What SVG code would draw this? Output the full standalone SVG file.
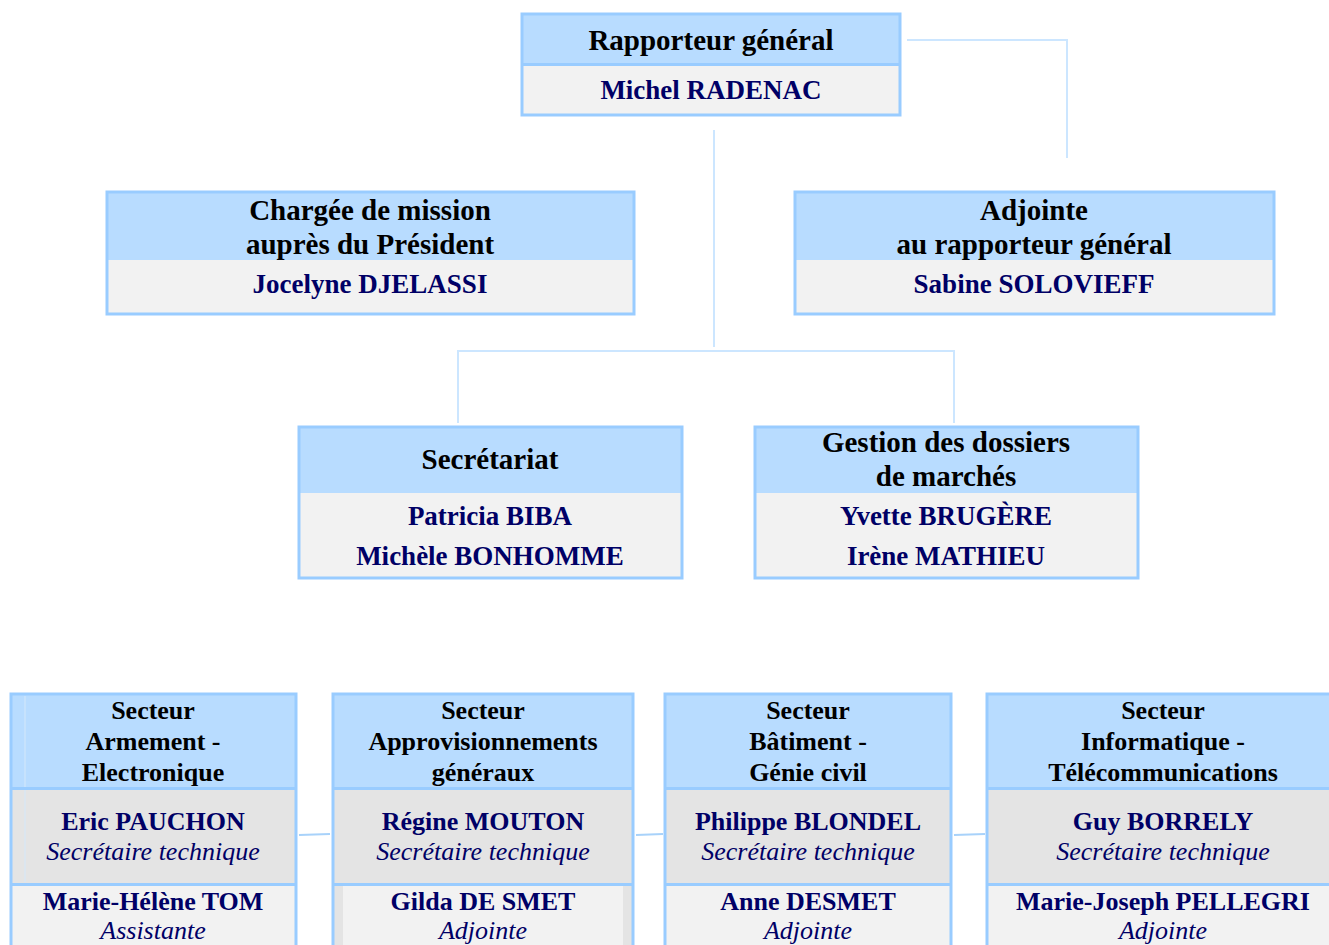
<svg xmlns="http://www.w3.org/2000/svg" width="1329" height="945" viewBox="0 0 1329 945">
<style>
.hd{fill:#B8DCFF}
.bd{fill:#F2F2F2}
.bd2{fill:#E4E4E4}
.fr{fill:none;stroke:#99CCFF;stroke-width:3}
.sep{stroke:#99CCFF;stroke-width:3}
.in{stroke:#D4E8FA;stroke-width:1}
.c{fill:none;stroke:#CCE6FF;stroke-width:2}
.c2{fill:none;stroke:#A8D2FA;stroke-width:2}
.t{font-weight:bold;font-size:29px;fill:#000;text-anchor:middle}
.n{font-weight:bold;font-size:27px;fill:#000066;text-anchor:middle}
.tb{font-weight:bold;font-size:26px;fill:#000;text-anchor:middle}
.nb{font-weight:bold;font-size:26px;fill:#000066;text-anchor:middle}
.ib{font-style:italic;font-size:26px;fill:#000066;text-anchor:middle}
</style>
<rect width="1329" height="945" fill="#fff"/>
<g id="connectors">
<polyline class="c" points="907,40 1067,40 1067,158"/>
<line class="c" x1="714" y1="130" x2="714" y2="347"/>
<polyline class="c" points="458,423 458,351 954,351 954,423"/>
<line class="c2" x1="299" y1="835" x2="330" y2="834"/>
<line class="c2" x1="636" y1="835" x2="663" y2="834"/>
<line class="c2" x1="954" y1="835" x2="985" y2="834"/>
</g>
<g id="rapporteur">
<rect class="hd" x="522" y="14" width="378" height="50"/>
<rect class="bd" x="522" y="64" width="378" height="51"/>
<line class="sep" x1="522" y1="64.5" x2="900" y2="64.5"/>
<rect class="fr" x="522" y="14" width="378" height="101"/>
<text class="t" x="711" y="50" font-family="Liberation Serif" style="font-family:'Liberation Serif',serif !important">Rapporteur général</text>
<text class="n" x="711" y="99" font-family="Liberation Serif" style="font-family:'Liberation Serif',serif !important">Michel RADENAC</text>
</g>
<g id="chargee">
<rect class="hd" x="107" y="192" width="527" height="68"/>
<rect class="bd" x="107" y="260" width="527" height="54"/>
<rect class="fr" x="107" y="192" width="527" height="122"/>
<text class="t" x="370" y="220" font-family="Liberation Serif" style="font-family:'Liberation Serif',serif !important">Chargée de mission</text>
<text class="t" x="370" y="254" font-family="Liberation Serif" style="font-family:'Liberation Serif',serif !important">auprès du Président</text>
<text class="n" x="370" y="293" font-family="Liberation Serif" style="font-family:'Liberation Serif',serif !important">Jocelyne DJELASSI</text>
</g>
<g id="adjointe">
<rect class="hd" x="795" y="192" width="479" height="68"/>
<rect class="bd" x="795" y="260" width="479" height="54"/>
<rect class="fr" x="795" y="192" width="479" height="122"/>
<text class="t" x="1034" y="220" font-family="Liberation Serif" style="font-family:'Liberation Serif',serif !important">Adjointe</text>
<text class="t" x="1034" y="254" font-family="Liberation Serif" style="font-family:'Liberation Serif',serif !important">au rapporteur général</text>
<text class="n" x="1034" y="293" font-family="Liberation Serif" style="font-family:'Liberation Serif',serif !important">Sabine SOLOVIEFF</text>
</g>
<g id="secretariat">
<rect class="hd" x="299" y="427" width="383" height="66"/>
<rect class="bd" x="299" y="493" width="383" height="85"/>
<rect class="fr" x="299" y="427" width="383" height="151"/>
<text class="t" x="490" y="469" font-family="Liberation Serif" style="font-family:'Liberation Serif',serif !important">Secrétariat</text>
<text class="n" x="490" y="525" font-family="Liberation Serif" style="font-family:'Liberation Serif',serif !important">Patricia BIBA</text>
<text class="n" x="490" y="565" font-family="Liberation Serif" style="font-family:'Liberation Serif',serif !important">Michèle BONHOMME</text>
</g>
<g id="gestion">
<rect class="hd" x="755" y="427" width="383" height="66"/>
<rect class="bd" x="755" y="493" width="383" height="85"/>
<rect class="fr" x="755" y="427" width="383" height="151"/>
<text class="t" x="946" y="452" font-family="Liberation Serif" style="font-family:'Liberation Serif',serif !important">Gestion des dossiers</text>
<text class="t" x="946" y="486" font-family="Liberation Serif" style="font-family:'Liberation Serif',serif !important">de marchés</text>
<text class="n" x="946" y="525" font-family="Liberation Serif" style="font-family:'Liberation Serif',serif !important">Yvette BRUGÈRE</text>
<text class="n" x="946" y="565" font-family="Liberation Serif" style="font-family:'Liberation Serif',serif !important">Irène MATHIEU</text>
</g>
<g id="armement">
<rect class="hd" x="11" y="694" width="285" height="94"/>
<rect class="bd2" x="11" y="788" width="285" height="96"/>
<rect class="bd" x="11" y="884" width="285" height="70"/>
<line class="in" x1="25" y1="696" x2="25" y2="882"/>
<line class="sep" x1="11" y1="788.5" x2="296" y2="788.5"/>
<line class="sep" x1="11" y1="884.5" x2="296" y2="884.5"/>
<rect class="fr" x="11" y="694" width="285" height="270"/>
<text class="tb" x="153" y="719" font-family="Liberation Serif" style="font-family:'Liberation Serif',serif !important">Secteur</text>
<text class="tb" x="153" y="750" font-family="Liberation Serif" style="font-family:'Liberation Serif',serif !important">Armement -</text>
<text class="tb" x="153" y="781" font-family="Liberation Serif" style="font-family:'Liberation Serif',serif !important">Electronique</text>
<text class="nb" x="153" y="830" font-family="Liberation Serif" style="font-family:'Liberation Serif',serif !important">Eric PAUCHON</text>
<text class="ib" x="153" y="860" font-family="Liberation Serif" style="font-family:'Liberation Serif',serif !important">Secrétaire technique</text>
<text class="nb" x="153" y="910" font-family="Liberation Serif" style="font-family:'Liberation Serif',serif !important">Marie-Hélène TOM</text>
<text class="ib" x="153" y="939" font-family="Liberation Serif" style="font-family:'Liberation Serif',serif !important">Assistante</text>
</g>
<g id="approvisionnements">
<rect class="hd" x="333" y="694" width="300" height="94"/>
<rect class="bd2" x="333" y="788" width="300" height="96"/>
<rect class="bd2" x="333" y="884" width="300" height="70"/>
<rect class="bd" x="343" y="886" width="280" height="70"/>
<line class="sep" x1="333" y1="788.5" x2="633" y2="788.5"/>
<line class="sep" x1="333" y1="884.5" x2="633" y2="884.5"/>
<rect class="fr" x="333" y="694" width="300" height="270"/>
<text class="tb" x="483" y="719" font-family="Liberation Serif" style="font-family:'Liberation Serif',serif !important">Secteur</text>
<text class="tb" x="483" y="750" font-family="Liberation Serif" style="font-family:'Liberation Serif',serif !important">Approvisionnements</text>
<text class="tb" x="483" y="781" font-family="Liberation Serif" style="font-family:'Liberation Serif',serif !important">généraux</text>
<text class="nb" x="483" y="830" font-family="Liberation Serif" style="font-family:'Liberation Serif',serif !important">Régine MOUTON</text>
<text class="ib" x="483" y="860" font-family="Liberation Serif" style="font-family:'Liberation Serif',serif !important">Secrétaire technique</text>
<text class="nb" x="483" y="910" font-family="Liberation Serif" style="font-family:'Liberation Serif',serif !important">Gilda DE SMET</text>
<text class="ib" x="483" y="939" font-family="Liberation Serif" style="font-family:'Liberation Serif',serif !important">Adjointe</text>
</g>
<g id="batiment">
<rect class="hd" x="665" y="694" width="286" height="94"/>
<rect class="bd2" x="665" y="788" width="286" height="96"/>
<rect class="bd" x="665" y="884" width="286" height="70"/>
<line class="sep" x1="665" y1="788.5" x2="951" y2="788.5"/>
<line class="sep" x1="665" y1="884.5" x2="951" y2="884.5"/>
<rect class="fr" x="665" y="694" width="286" height="270"/>
<text class="tb" x="808" y="719" font-family="Liberation Serif" style="font-family:'Liberation Serif',serif !important">Secteur</text>
<text class="tb" x="808" y="750" font-family="Liberation Serif" style="font-family:'Liberation Serif',serif !important">Bâtiment -</text>
<text class="tb" x="808" y="781" font-family="Liberation Serif" style="font-family:'Liberation Serif',serif !important">Génie civil</text>
<text class="nb" x="808" y="830" font-family="Liberation Serif" style="font-family:'Liberation Serif',serif !important">Philippe BLONDEL</text>
<text class="ib" x="808" y="860" font-family="Liberation Serif" style="font-family:'Liberation Serif',serif !important">Secrétaire technique</text>
<text class="nb" x="808" y="910" font-family="Liberation Serif" style="font-family:'Liberation Serif',serif !important">Anne DESMET</text>
<text class="ib" x="808" y="939" font-family="Liberation Serif" style="font-family:'Liberation Serif',serif !important">Adjointe</text>
</g>
<g id="informatique">
<rect class="hd" x="987" y="694" width="345" height="94"/>
<rect class="bd2" x="987" y="788" width="345" height="96"/>
<rect class="bd" x="987" y="884" width="345" height="70"/>
<line class="sep" x1="987" y1="788.5" x2="1332" y2="788.5"/>
<line class="sep" x1="987" y1="884.5" x2="1332" y2="884.5"/>
<rect class="fr" x="987" y="694" width="345" height="270"/>
<text class="tb" x="1163" y="719" font-family="Liberation Serif" style="font-family:'Liberation Serif',serif !important">Secteur</text>
<text class="tb" x="1163" y="750" font-family="Liberation Serif" style="font-family:'Liberation Serif',serif !important">Informatique -</text>
<text class="tb" x="1163" y="781" font-family="Liberation Serif" style="font-family:'Liberation Serif',serif !important">Télécommunications</text>
<text class="nb" x="1163" y="830" font-family="Liberation Serif" style="font-family:'Liberation Serif',serif !important">Guy BORRELY</text>
<text class="ib" x="1163" y="860" font-family="Liberation Serif" style="font-family:'Liberation Serif',serif !important">Secrétaire technique</text>
<text class="nb" x="1163" y="910" font-family="Liberation Serif" style="font-family:'Liberation Serif',serif !important">Marie-Joseph PELLEGRI</text>
<text class="ib" x="1163" y="939" font-family="Liberation Serif" style="font-family:'Liberation Serif',serif !important">Adjointe</text>
</g>
</svg>
